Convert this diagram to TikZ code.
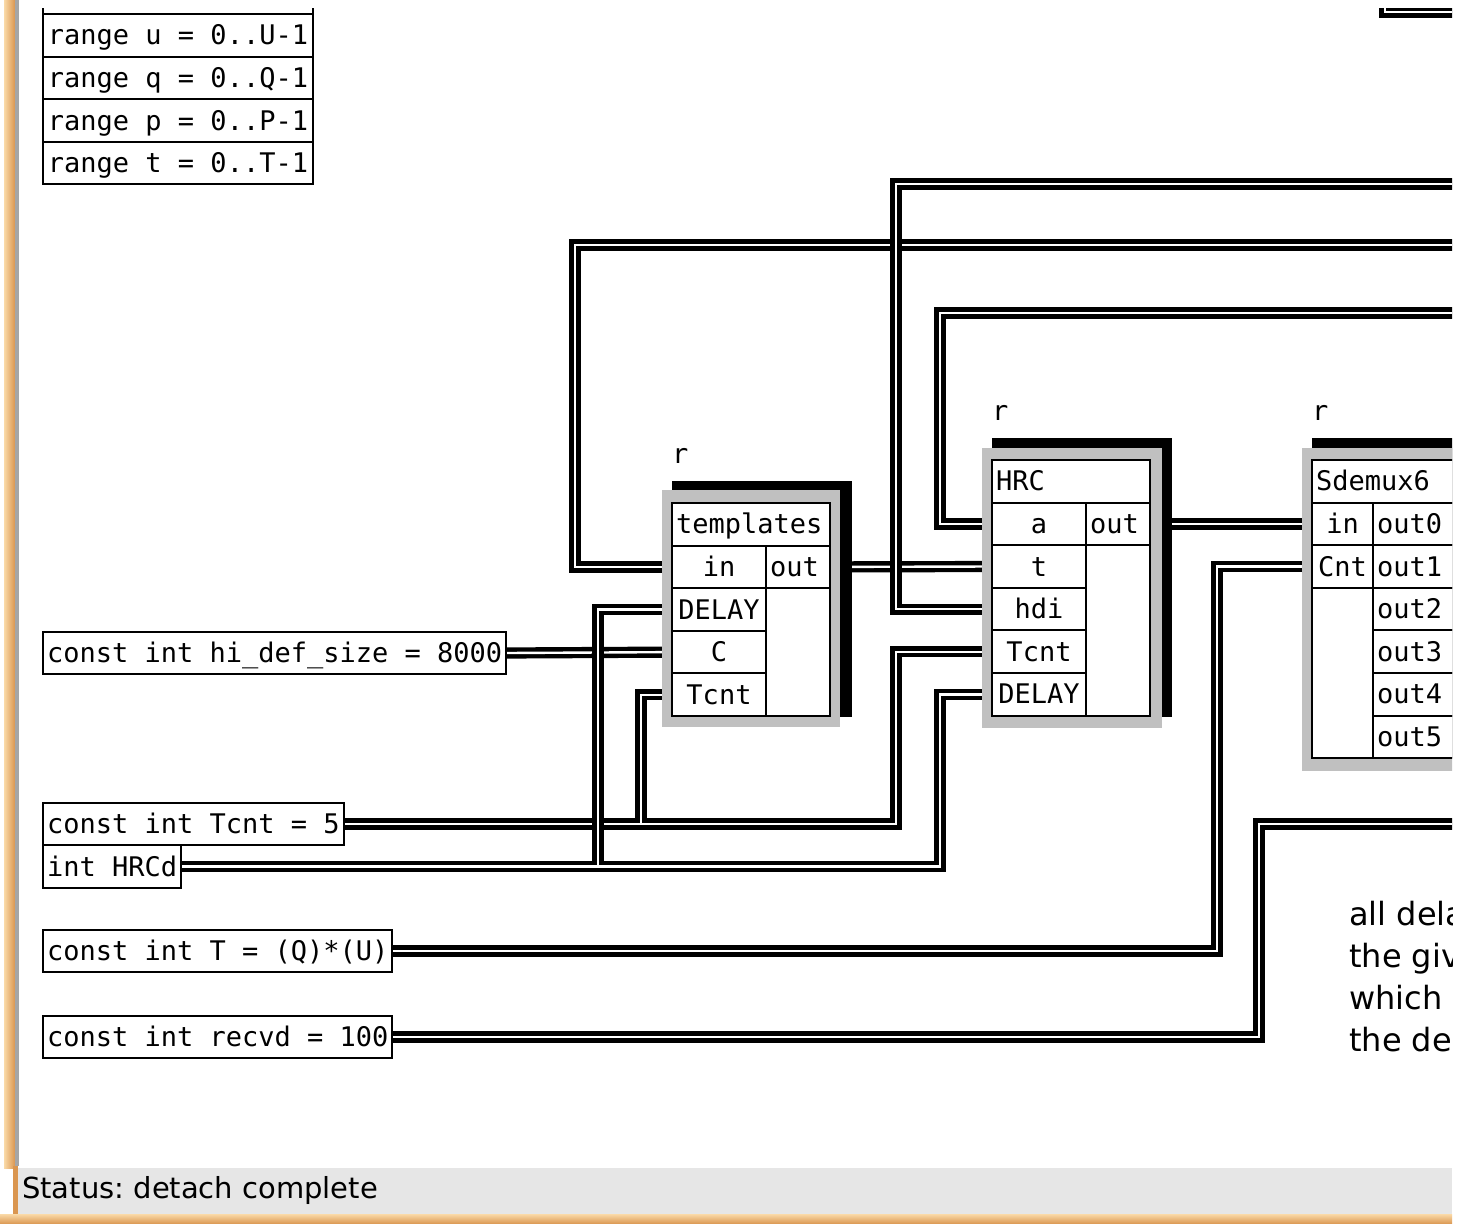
\documentclass[tikz,border=0pt]{standalone}
\usepackage{fontspec}
\newfontfamily\fixedfont[WordSpace={1,0,0}]{DejaVu Sans Mono}
\newfontfamily\panelfont{DejaVu Sans}
\usetikzlibrary{positioning,calc}
\pgfdeclarelayer{fondo}
\pgfsetlayers{fondo,main}
\definecolor{marco}{RGB}{192,192,192}
\definecolor{barra}{RGB}{230,230,230}
\definecolor{naranjaClaro}{RGB}{250,218,168}
\definecolor{naranjaOscuro}{RGB}{218,150,80}
\tikzset{
  celda/.style={draw,line width=2pt,fill=white,minimum height=42.6pt,inner sep=0pt,outer sep=0pt,
    text height=20pt,text depth=1pt,font=\fontsize{27}{30}\fixedfont},
  celdaizq/.style={celda,text width=#1,align=left,inner xsep=4pt},
  cte/.style={celda,inner xsep=4pt,anchor=west},
  rango/.style={celda,inner xsep=4pt,minimum width=270pt},
  etiq/.style={font=\fontsize{27}{30}\fixedfont,inner sep=0pt,anchor=base west},
  cable/.style={line width=4.4pt,double=white,double distance=2.4pt,line join=miter},
  nota/.style={font=\fontsize{32}{42}\panelfont,inner sep=0pt,anchor=base west},
}
\begin{document}
\frenchspacing
\begin{tikzpicture}[x=1pt,y=-1pt]
  \useasboundingbox (0,0) rectangle (1468,1224);
  \begin{pgfonlayer}{fondo}
    \fill[white] (0,0) rectangle (1468,1224);
  \end{pgfonlayer}
  \begin{scope}
    \clip (19,8) rectangle (1452,1166);
    % rangos
    \draw[line width=2pt] (43,-30) rectangle (313,14);
    \node[rango,anchor=north west] (rngU) at (43,14) {range u = 0..U-1};
    \node[rango,below=0pt of rngU] (rngQ) {range q = 0..Q-1};
    \node[rango,below=0pt of rngQ] (rngP) {range p = 0..P-1};
    \node[rango,below=0pt of rngP] (rngT) {range t = 0..T-1};
    % constantes
    \node[cte] (cHidef) at (43,653) {const int hi\_def\_size = 8000};
    \node[cte] (cTcnt) at (43,824) {const int Tcnt = 5};
    \node[cte,below right=0pt and 0pt of cTcnt.south west] (cHrcd) {int HRCd};
    \node[cte] (cT) at (43,951) {const int T = (Q)*(U)};
    \node[cte] (cRecvd) at (43,1037) {const int recvd = 100};
    % bloque templates
    \coordinate (tpl) at (672,503);
    \fill (tpl) ++(0,-22) rectangle ++(180,236);
    \fill[marco] (tpl) ++(-10,-13) rectangle ++(178,237);
    \node[etiq] (tplR) at ($(tpl)+(0,-40)$) {r};
    \node[celdaizq=150pt,anchor=north west] (tplHead) at (tpl) {templates};
    \node[celda,minimum width=94pt,below right=0pt and 0pt of tplHead.south west] (tplIn) {in};
    \node[celdaizq=56pt,right=0pt of tplIn] (tplOut) {out};
    \node[celda,minimum width=94pt,below=0pt of tplIn] (tplDelay) {DELAY};
    \node[celda,minimum width=94pt,below=0pt of tplDelay] (tplC) {C};
    \node[celda,minimum width=94pt,below=0pt of tplC] (tplTcnt) {Tcnt};
    \draw[line width=2pt,fill=white] (tplOut.south west) rectangle (tplOut.east |- tplTcnt.south);
    % bloque HRC
    \coordinate (hrc) at (992,460);
    \fill (hrc) ++(0,-22) rectangle ++(180,279);
    \fill[marco] (hrc) ++(-10,-12) rectangle ++(180,280);
    \node[etiq] (hrcR) at ($(hrc)+(0,-40)$) {r};
    \node[celdaizq=150pt,anchor=north west] (hrcHead) at (hrc) {HRC};
    \node[celda,minimum width=94pt,below right=0pt and 0pt of hrcHead.south west] (hrcA) {a};
    \node[celdaizq=56pt,right=0pt of hrcA] (hrcOut) {out};
    \node[celda,minimum width=94pt,below=0pt of hrcA] (hrcT) {t};
    \node[celda,minimum width=94pt,below=0pt of hrcT] (hrcHdi) {hdi};
    \node[celda,minimum width=94pt,below=0pt of hrcHdi] (hrcTcnt) {Tcnt};
    \node[celda,minimum width=94pt,below=0pt of hrcTcnt] (hrcDelay) {DELAY};
    \draw[line width=2pt,fill=white] (hrcOut.south west) rectangle (hrcOut.east |- hrcDelay.south);
    % bloque Sdemux6
    \coordinate (dmx) at (1312,460);
    \fill (dmx) ++(0,-22) rectangle ++(180,320);
    \fill[marco] (dmx) ++(-10,-12) rectangle ++(180,323);
    \node[etiq] (dmxR) at ($(dmx)+(0,-40)$) {r};
    \node[celdaizq=152pt,anchor=north west] (dmxHead) at (dmx) {Sdemux6};
    \node[celda,minimum width=61pt,below right=0pt and 0pt of dmxHead.south west] (dmxIn) {in};
    \node[celdaizq=91pt,right=0pt of dmxIn] (dmxOut0) {out0};
    \node[celda,minimum width=61pt,below=0pt of dmxIn] (dmxCnt) {Cnt};
    \node[celdaizq=91pt,right=0pt of dmxCnt] (dmxOut1) {out1};
    \foreach \i/\j in {2/1,3/2,4/3,5/4}
      \node[celdaizq=91pt,below=0pt of dmxOut\j] (dmxOut\i) {out\i};
    \draw[line width=2pt,fill=white] (dmxCnt.south west) rectangle (dmxOut5.south west);
    % nota
    \node[nota] (nota1) at (1349,925) {all dela};
    \node[nota] (nota2) at (1349,967) {the giv};
    \node[nota] (nota3) at (1349,1009) {which};
    \node[nota] (nota4) at (1349,1051) {the de};
  \end{scope}
  % cables (debajo de los bloques)
  \begin{pgfonlayer}{fondo}
    \begin{scope}
      \clip (19,8) rectangle (1452,1166);
      \coordinate (inLoop) at (1470,245);
      \coordinate (hdiLoop) at (1470,184);
      \coordinate (aLoop) at (1470,313);
      \coordinate (recvdEnd) at (1470,824);
      \coordinate (topA) at (1385,-10);
      \coordinate (topB) at (1470,12);
      \draw[cable] (cHidef.east) -- (tplC.west);
      \draw[cable] (tplOut.east) -- (hrcT.west);
      \draw[cable] (hrcOut.east) -- (dmxIn.west);
      % lazos de vuelta
      \draw[cable] (inLoop) -| ([xshift=-97pt]tplIn.west) -- (tplIn.west);
      \draw[cable] (hdiLoop) -| ([xshift=-96pt]hrcHdi.west) -- (hrcHdi.west);
      \draw[cable] (aLoop) -| ([xshift=-52pt]hrcA.west) -- (hrcA.west);
      % Tcnt a ambos bloques
      \coordinate (tcntBr) at ([xshift=-31pt]tplTcnt.west);
      \draw[cable] (cTcnt.east) -| ([xshift=-96pt]hrcTcnt.west) -- (hrcTcnt.west)
        (tcntBr |- cTcnt.east) |- (tplTcnt.west);
      % HRCd a los DELAY
      \coordinate (dlyBr) at ([xshift=-74pt]tplDelay.west);
      \draw[cable] (cHrcd.east) -| ([xshift=-52pt]hrcDelay.west) -- (hrcDelay.west)
        (dlyBr |- cHrcd.east) |- (tplDelay.west);
      \draw[cable] (cT.east) -| ([xshift=-95pt]dmxCnt.west) -- (dmxCnt.west);
      \draw[cable] (cRecvd.east) -| ([xshift=-211pt]recvdEnd) -- (recvdEnd);
      \draw[cable] (topA) |- (topB);
    \end{scope}
  \end{pgfonlayer}
  % marco de la ventana
  \shade[left color=naranjaClaro,right color=naranjaOscuro] (4,0) rectangle (15,1168);
  \fill[gray!70] (15,0) rectangle (19,1166);
  % barra de estado
  \fill[barra] (17,1168) rectangle (1452,1214);
  \fill[naranjaOscuro] (13,1166) rectangle (18,1214);
  \shade[top color=naranjaClaro,bottom color=naranjaOscuro] (0,1214) rectangle (1452,1224);
  \node[anchor=base west,font=\fontsize{29}{30}\panelfont,inner sep=0pt] (estado) at (22,1198) {Status: detach complete};
\end{tikzpicture}
\end{document}
